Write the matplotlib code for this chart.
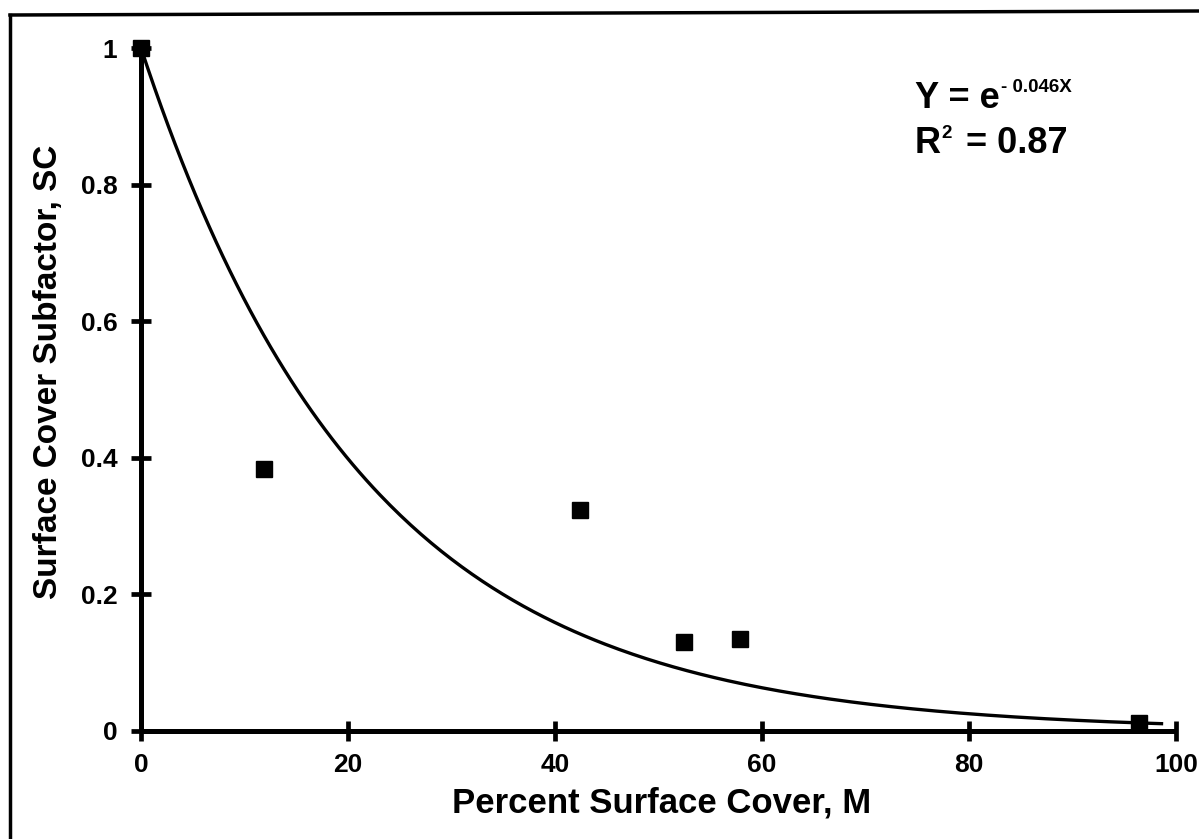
import numpy as np
import matplotlib
matplotlib.use("Agg")
import matplotlib.pyplot as plt
from matplotlib.lines import Line2D

plt.rcParams['font.family'] = ['Liberation Sans', 'DejaVu Sans']
plt.rcParams['font.weight'] = 'bold'

# Data
cover_pct = [0.0, 11.9, 42.4, 52.5, 57.9, 96.4]
sc_values = [1.0, 0.384, 0.323, 0.131, 0.134, 0.012]
fit_coef = 0.046
fit_x_max = 98.6
x_ticks = [0, 20, 40, 60, 80, 100]
y_ticks = [0, 0.2, 0.4, 0.6, 0.8, 1.0]
y_tick_labels = ["0", "0.2", "0.4", "0.6", "0.8", "1"]

W, H = 1199, 839
fig = plt.figure(figsize=(W / 100, H / 100), dpi=100)
ax = fig.add_axes([141 / W, 1 - 731 / H, (1176 - 141) / W, (731 - 48) / H])

xf = np.linspace(0, fit_x_max, 300)
ax.plot(xf, np.exp(-fit_coef * xf), color='black', lw=2.4, clip_on=False, zorder=3)
ax.plot(cover_pct, sc_values, linestyle='none', marker='s', markersize=12,
        color='black', clip_on=False, zorder=4)

ax.set_xlim(0, 100)
ax.set_ylim(0, 1)
ax.set_xticks(x_ticks)
ax.set_xticklabels([str(v) for v in x_ticks])
ax.set_yticks(y_ticks)
ax.set_yticklabels(y_tick_labels)

for s in ['top', 'right']:
    ax.spines[s].set_visible(False)
for s in ['left', 'bottom']:
    ax.spines[s].set_linewidth(3.6)
    ax.spines[s].set_capstyle('butt')

ax.tick_params(axis='both', direction='inout', length=14, width=3.4,
               labelsize=19, color='black')
ax.tick_params(axis='x', pad=9)
ax.tick_params(axis='y', pad=10)
for lab in ax.get_xticklabels() + ax.get_yticklabels():
    lab.set_fontweight('bold')

ax.set_xlabel("Percent Surface Cover, M", fontsize=25, fontweight='bold')
ax.set_ylabel("Surface Cover Subfactor, SC", fontsize=24, fontweight='bold')
# label positions in pixels -> axes coords
ax_x0, ax_x1, ax_y0, ax_y1 = 141, 1176, 731, 48
def px_to_axes(px, py):
    return ((px - ax_x0) / (ax_x1 - ax_x0), (ax_y0 - py) / (ax_y0 - ax_y1))
ax.xaxis.set_label_coords(*px_to_axes(662, 787))
ax.yaxis.set_label_coords(*px_to_axes(64, 372))

# equation annotation
def ftxt(px, py, s, size):
    fig.text(px / W, 1 - py / H, s, fontsize=size, fontweight='bold',
             ha='left', va='baseline')
ftxt(915, 108, "Y = e", 26)
ftxt(1001, 92, "- 0.046X", 13.5)
ftxt(915, 153, "R", 26)
ftxt(941, 138, "2", 13.5)
ftxt(956, 153, " = 0.87", 26)

# figure border (scanned frame)
fig.add_artist(Line2D([10 / W, 10 / W], [0, 1 - 15 / H], transform=fig.transFigure,
                      color='black', lw=2.5))
fig.add_artist(Line2D([10 / W, 1], [1 - 15 / H, 1 - 11 / H], transform=fig.transFigure,
                      color='black', lw=2.5))

fig.savefig("out.png", dpi=100)
